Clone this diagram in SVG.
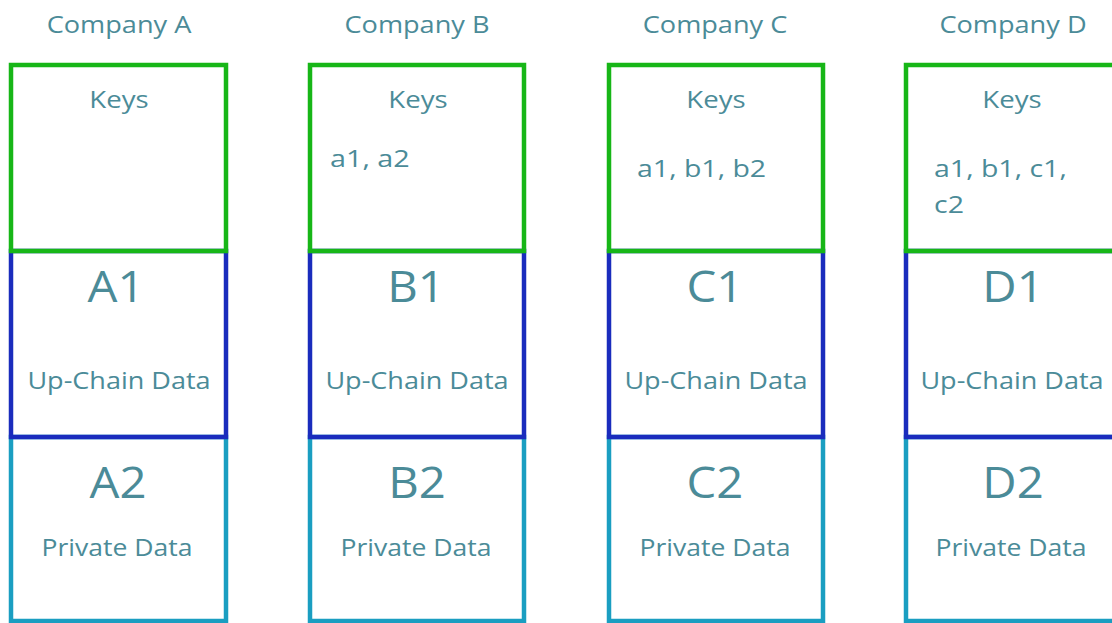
<svg xmlns="http://www.w3.org/2000/svg" width="1112" height="623" viewBox="0 0 1112 623">
<style>
text{font-family:"Open Sans","Noto Sans","Liberation Sans",sans-serif;fill:#4b8b98}
.t{font-size:23px;text-anchor:middle}
.k{font-size:23px;text-anchor:middle}
.v{font-size:23px}
.big{font-size:43px;text-anchor:middle}
.lbl{font-size:23.5px;text-anchor:middle}
.g{fill:none;stroke:#17b617;stroke-width:4.5}
.b{fill:none;stroke:#1a2cbd;stroke-width:4.5}
.c{fill:none;stroke:#1a9ec1;stroke-width:4.5}
</style>
<rect width="1112" height="623" fill="#ffffff"/>
<g id="companyA">
<text class="t" transform="matrix(1.18,0,0,1,119,33)">Company A</text>
<rect class="c" x="11" y="437" width="215" height="184"/>
<rect class="b" x="11" y="251" width="215" height="186"/>
<rect class="g" x="11" y="65" width="215" height="186"/>
<text class="k" transform="matrix(1.2,0,0,1,119,108)">Keys</text>
<text class="big" transform="matrix(1.1,0,0,1,116,302)">A1</text>
<text class="lbl" transform="matrix(1.15,0,0,1,119,389)">Up-Chain Data</text>
<text class="big" transform="matrix(1.1,0,0,1,118,498)">A2</text>
<text class="lbl" transform="matrix(1.13,0,0,1,117,556)">Private Data</text>
</g>
<g id="companyB">
<text class="t" transform="matrix(1.18,0,0,1,417,33)">Company B</text>
<rect class="c" x="310" y="437" width="214" height="184"/>
<rect class="b" x="310" y="251" width="214" height="186"/>
<rect class="g" x="310" y="65" width="214" height="186"/>
<text class="k" transform="matrix(1.2,0,0,1,418,108)">Keys</text>
<text class="v" transform="matrix(1.25,0,0,1,330,167)">a1, a2</text>
<text class="big" transform="matrix(1.1,0,0,1,416,302)">B1</text>
<text class="lbl" transform="matrix(1.15,0,0,1,417,389)">Up-Chain Data</text>
<text class="big" transform="matrix(1.1,0,0,1,417,498)">B2</text>
<text class="lbl" transform="matrix(1.13,0,0,1,416,556)">Private Data</text>
</g>
<g id="companyC">
<text class="t" transform="matrix(1.18,0,0,1,715,33)">Company C</text>
<rect class="c" x="609" y="437" width="214" height="184"/>
<rect class="b" x="609" y="251" width="214" height="186"/>
<rect class="g" x="609" y="65" width="214" height="186"/>
<text class="k" transform="matrix(1.2,0,0,1,716,108)">Keys</text>
<text class="v" transform="matrix(1.24,0,0,1,637,177)">a1, b1, b2</text>
<text class="big" transform="matrix(1.1,0,0,1,715,302)">C1</text>
<text class="lbl" transform="matrix(1.15,0,0,1,716,389)">Up-Chain Data</text>
<text class="big" transform="matrix(1.1,0,0,1,715,498)">C2</text>
<text class="lbl" transform="matrix(1.13,0,0,1,715,556)">Private Data</text>
</g>
<g id="companyD">
<text class="t" transform="matrix(1.18,0,0,1,1013,33)">Company D</text>
<rect class="c" x="906" y="437" width="214" height="184"/>
<rect class="b" x="906" y="251" width="214" height="186"/>
<rect class="g" x="906" y="65" width="214" height="186"/>
<text class="k" transform="matrix(1.2,0,0,1,1012,108)">Keys</text>
<text class="v" transform="matrix(1.24,0,0,1,934,177)">a1, b1, c1,</text>
<text class="v" transform="matrix(1.24,0,0,1,934,213)">c2</text>
<text class="big" transform="matrix(1.1,0,0,1,1013,302)">D1</text>
<text class="lbl" transform="matrix(1.15,0,0,1,1012,389)">Up-Chain Data</text>
<text class="big" transform="matrix(1.1,0,0,1,1013,498)">D2</text>
<text class="lbl" transform="matrix(1.13,0,0,1,1011,556)">Private Data</text>
</g>
<g id="connectors"></g>
</svg>
